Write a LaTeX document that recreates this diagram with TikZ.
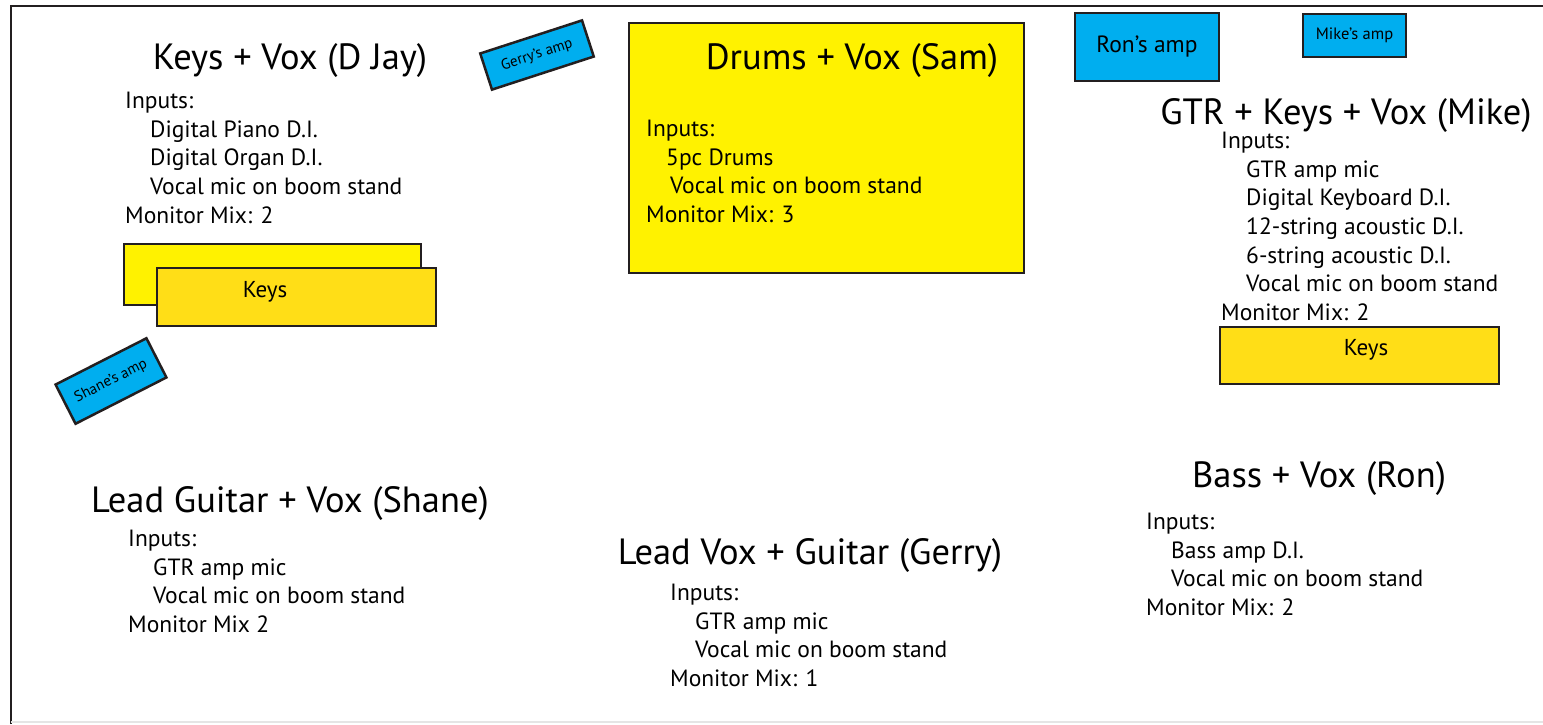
\documentclass[tikz,border=0pt]{standalone}
\usepackage{fontspec}
\setmainfont{PT Sans}
\usetikzlibrary{positioning}
\definecolor{stageyellow}{HTML}{FFF200}
\definecolor{keysgold}{HTML}{FFDE17}
\definecolor{ampblue}{HTML}{00AEEF}
\definecolor{edgegray}{HTML}{231F20}
\tikzset{
  ttl/.style={font=\fontsize{36.5}{42}\selectfont},
  lst/.style={anchor=north west,align=left,inner sep=0pt,font=\fontsize{23.5}{28.6}\selectfont},
  riser/.style={draw=edgegray,line width=2.5pt,fill=stageyellow},
  keybox/.style={draw=edgegray,line width=2.5pt,fill=keysgold},
  amp/.style={draw=edgegray,line width=2.5pt,fill=ampblue,inner sep=0pt}
}
\newcommand{\ind}[1]{\hspace*{#1pt}}
\begin{document}
\begin{tikzpicture}[x=1pt,y=-1pt]
    \useasboundingbox (0,0) rectangle (1543,724);
    % Stage outline
    \coordinate (tl) at (11,6);
    \coordinate (tr) at (1543,6);
    \coordinate (bl) at (11,724);
    \coordinate (br) at (1543,722);
    \draw[edgegray,line width=2.5pt] (bl) -- (tl) -- (tr);
    \draw[black!10,line width=1.5pt] (11,722) -- (br);

    % Keys + Vox (D Jay)
    \node[ttl] (djay) at (290,61) {Keys + Vox (D Jay)};
    \node[lst] (djayin) at (125,92) {Inputs:\\ \ind{25}Digital Piano D.I.\\ \ind{25}Digital Organ D.I.\\ \ind{25}Vocal mic on boom stand\\ Monitor Mix: 2};
    \node[riser,minimum width=297pt,minimum height=61pt] (djaykb1) at (272.5,274.5) {};
    \node[keybox,minimum width=279pt,minimum height=58pt] (djaykb2) at (296.5,297) {};
    \node[font=\fontsize{23}{27}\selectfont] (djaykeys) at (265,292) {Keys};

    % amps
    \node[amp,rotate=27,minimum width=102pt,minimum height=44pt,font=\fontsize{15}{17}\selectfont] (shaneamp) at (111,381) {Shane’s amp};
    \node[amp,rotate=18,minimum width=107pt,minimum height=38pt,font=\fontsize{15}{17}\selectfont] (gerryamp) at (537,55) {Gerry’s amp};
    \node[amp,minimum width=144pt,minimum height=68pt,font=\fontsize{23.5}{27}\selectfont] (ronamp) at (1147,47) {Ron’s amp};
    \node[amp,minimum width=103pt,minimum height=43pt,font=\fontsize{16.5}{19}\selectfont] (mikeamp) at (1354.5,35.5) {Mike’s amp};

    % Drums + Vox (Sam)
    \node[riser,minimum width=395pt,minimum height=250pt] (drumriser) at (826.5,148) {};
    \node[ttl] (sam) at (852,61) {Drums + Vox (Sam)};
    \node[lst] (samin) at (646,120) {Inputs:\\ \ind{20}5pc Drums\\ \ind{24}Vocal mic on boom stand\\ Monitor Mix: 3};

    % GTR + Keys + Vox (Mike)
    \node[ttl] (mike) at (1346,116) {GTR + Keys + Vox (Mike)};
    \node[lst] (mikein) at (1221,132) {Inputs:\\ \ind{25}GTR amp mic\\ \ind{25}Digital Keyboard D.I.\\ \ind{25}12-string acoustic D.I.\\ \ind{25}6-string acoustic D.I.\\ \ind{25}Vocal mic on boom stand\\ Monitor Mix: 2};
    \node[keybox,minimum width=279pt,minimum height=57pt] (mikekb) at (1359.5,355.5) {};
    \node[font=\fontsize{23}{27}\selectfont] (mikekeys) at (1366,350) {Keys};

    % Bass + Vox (Ron)
    \node[ttl] (ron) at (1319,479) {Bass + Vox (Ron)};
    \node[lst] (ronin) at (1146,513) {Inputs:\\ \ind{25}Bass amp D.I.\\ \ind{25}Vocal mic on boom stand\\ Monitor Mix: 2};

    % Lead Guitar + Vox (Shane)
    \node[ttl] (shane) at (290,504) {Lead Guitar + Vox (Shane)};
    \node[lst] (shanein) at (128,530) {Inputs:\\ \ind{25}GTR amp mic\\ \ind{25}Vocal mic on boom stand\\ Monitor Mix 2};

    % Lead Vox + Guitar (Gerry)
    \node[ttl] (gerry) at (810,556) {Lead Vox + Guitar (Gerry)};
    \node[lst] (gerryin) at (670,584) {Inputs:\\ \ind{25}GTR amp mic\\ \ind{25}Vocal mic on boom stand\\ Monitor Mix: 1};
\end{tikzpicture}
\end{document}
